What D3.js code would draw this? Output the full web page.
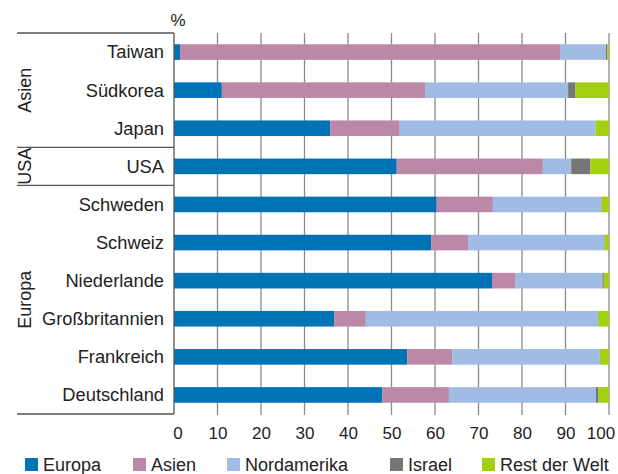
<!DOCTYPE html>
<html><head><meta charset="utf-8">
<script src="https://cdn.jsdelivr.net/npm/d3@7"></script>
<style>body{margin:0;background:#fff}svg{display:block;font-family:"Liberation Sans",Arial,sans-serif}</style>
</head><body><svg id="c" width="618" height="474"></svg>
<script>
const countries = ["Taiwan","Südkorea","Japan","USA","Schweden","Schweiz","Niederlande","Großbritannien","Frankreich","Deutschland"];
const seriesNames = ["Europa","Asien","Nordamerika","Israel","Rest der Welt"];
const europa      = [1.4, 11.0, 35.9, 51.2, 60.4, 59.1, 73.1, 36.8, 53.6, 47.9];
const asien       = [87.5, 46.7, 16.0, 33.6, 12.9, 8.5, 5.3, 7.3, 10.4, 15.3];
const nordamerika = [10.4, 32.9, 45.0, 6.5, 24.9, 31.3, 20.1, 53.4, 33.9, 33.8];
const israel      = [0.3, 1.7, 0.0, 4.4, 0.1, 0.1, 0.3, 0.0, 0.0, 0.6];
const rest        = [0.4, 7.7, 3.1, 4.3, 1.7, 1.0, 1.2, 2.5, 2.1, 2.4];
const colors = ["#0073b6","#bc88a8","#a0bce4","#767676","#a0d010"];
const groups = [{name:"Asien", first:"Taiwan", last:"Japan"},{name:"USA", first:"USA", last:"USA"},{name:"Europa", first:"Schweden", last:"Deutschland"}];
const xTicks = [0,10,20,30,40,50,60,70,80,90,100];

const svg = d3.select("#c");
const x = d3.scaleLinear().domain([0,100]).range([174,609]);
const y = d3.scaleBand().domain(countries).range([33,414]).paddingInner(0.59).paddingOuter(0.295);

const rows = countries.map((c,i)=>({c, vals:[europa[i],asien[i],nordamerika[i],israel[i],rest[i]]}));
const stackData = countries.map((c,i)=>{const o={c}; seriesNames.forEach((s,j)=>o[s]=rows[i].vals[j]); return o;});
const stack = d3.stack().keys(seriesNames)(stackData);

// gridlines
svg.append("g").selectAll("line").data(xTicks.slice(1)).join("line")
  .attr("x1",d=>x(d)).attr("x2",d=>x(d)).attr("y1",33).attr("y2",415)
  .attr("stroke","#8a8a8a").attr("stroke-width",1.3);

// bars
svg.append("g").selectAll("g").data(stack).join("g")
  .attr("fill",(d,i)=>colors[i])
  .selectAll("rect").data(d=>d).join("rect")
  .attr("x",d=>x(d[0])).attr("width",d=>Math.max(0,x(d[1])-x(d[0])))
  .attr("y",d=>y(d.data.c)).attr("height",y.bandwidth());

// axis line
svg.append("line").attr("x1",174).attr("x2",174).attr("y1",33).attr("y2",414)
  .attr("stroke","#555").attr("stroke-width",1.3);

// x tick labels
svg.append("g").selectAll("text").data(xTicks).join("text")
  .attr("x",d=>x(d)+(d===0?4:(d===100?-8:0.5))).attr("y",439).attr("text-anchor","middle")
  .attr("font-size",17).attr("fill","#222").text(d=>d);

svg.append("text").attr("x",178).attr("y",26).attr("text-anchor","middle")
  .attr("font-size",17).attr("fill","#222").text("%");

// country labels
svg.append("g").selectAll("text").data(countries).join("text")
  .attr("x",164).attr("y",d=>y(d)+y.bandwidth()/2).attr("dy","0.35em")
  .attr("text-anchor","end").attr("font-size",18.3).attr("fill","#222").text(d=>d);

// group separators
const step = y.step();
const bounds = groups.map(g=>({name:g.name, top:y(g.first)-y.paddingInner()*step/2, bottom:y(g.last)+y.bandwidth()+y.paddingInner()*step/2}));
const hl = new Set();
bounds.forEach(b=>{hl.add(Math.round(b.top*10)/10); hl.add(Math.round(b.bottom*10)/10);});
svg.append("g").selectAll("line").data([...hl]).join("line")
  .attr("x1",17).attr("x2",174).attr("y1",d=>d).attr("y2",d=>d)
  .attr("stroke","#555").attr("stroke-width",1.3);
svg.append("g").selectAll("text").data(bounds).join("text")
  .attr("transform",d=>`translate(30.5,${(d.top+d.bottom)/2}) rotate(-90)`)
  .attr("text-anchor","middle").attr("font-size",18).attr("fill","#222").text(d=>d.name);

// legend
const legX = [25,133,227,390,482];
const lg = svg.append("g").selectAll("g").data(seriesNames).join("g")
  .attr("transform",(d,i)=>`translate(${legX[i]},458)`);
lg.append("rect").attr("width",13).attr("height",13).attr("fill",(d,i)=>colors[i]);
lg.append("text").attr("x",18).attr("y",13).attr("font-size",18).attr("fill","#222").text(d=>d);
</script></body></html>
